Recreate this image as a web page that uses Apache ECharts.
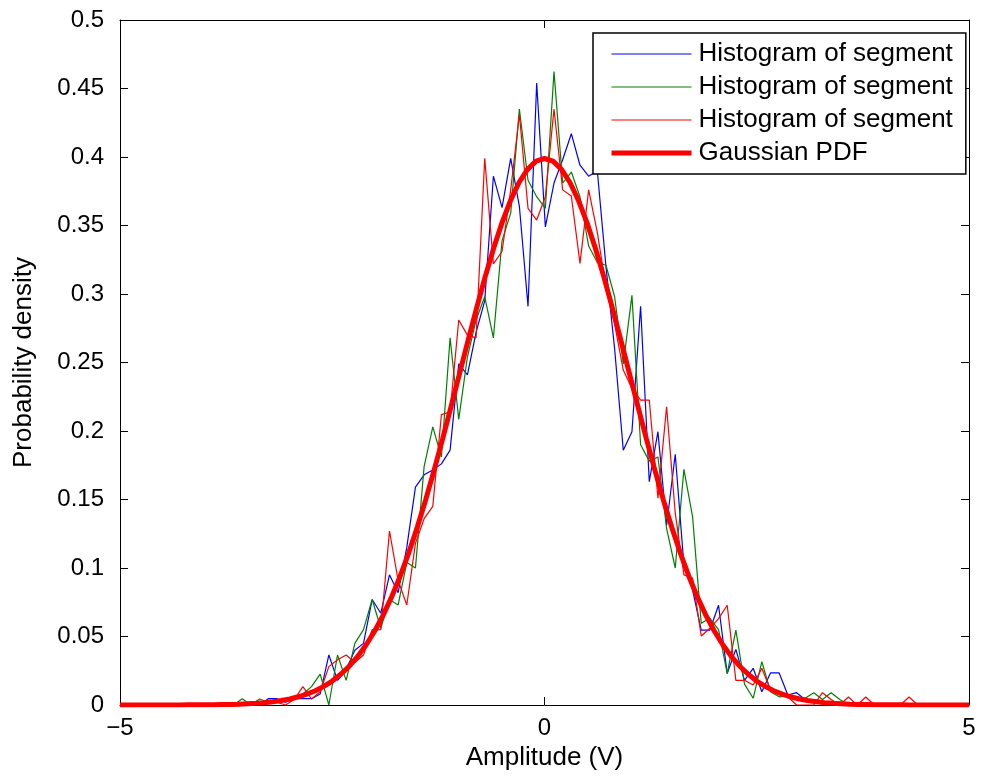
<!DOCTYPE html>
<html>
<head>
<meta charset="utf-8">
<script src="https://cdn.jsdelivr.net/npm/echarts@6/dist/echarts.min.js"></script>
<style>
html,body{margin:0;padding:0;background:#fff;}
#chart{width:987px;height:777px;}
</style>
</head>
<body>
<div id="chart"></div>
<script>
// Bin centres of the histograms (x, volts)
var histX = [-3.764,-3.662,-3.560,-3.458,-3.356,-3.254,-3.152,-3.050,-2.948,-2.846,
  -2.744,-2.642,-2.540,-2.438,-2.336,-2.234,-2.132,-2.030,-1.928,-1.826,
  -1.724,-1.622,-1.520,-1.418,-1.316,-1.214,-1.112,-1.010,-0.908,-0.806,
  -0.704,-0.602,-0.500,-0.398,-0.296,-0.194,-0.092,0.010,0.112,0.214,
  0.316,0.418,0.520,0.622,0.724,0.826,0.928,1.030,1.132,1.234,
  1.336,1.438,1.540,1.642,1.744,1.846,1.948,2.050,2.152,2.254,
  2.356,2.458,2.560,2.662,2.764,2.866,2.968,3.070,3.172,3.274,
  3.376,3.478,3.580,3.682,3.784,3.886,3.988,4.090,4.192,4.294,4.396];

var blueY = [0,0,0,0,0,0.0046,0.0046,0.002,0.0046,0.0046,
  0.0046,0.008,0.0365,0.018,0.026,0.040,0.045,0.077,0.067,0.095,
  0.082,0.115,0.159,0.168,0.1715,0.176,0.186,0.249,0.241,0.272,
  0.295,0.386,0.363,0.399,0.364,0.291,0.454,0.349,0.381,0.398,
  0.417,0.394,0.386,0.390,0.320,0.260,0.186,0.1995,0.291,0.163,
  0.1995,0.131,0.183,0.102,0.084,0.0547,0.0547,0.0728,0.023,0.0406,
  0.018,0.0268,0.0097,0.0234,0.0234,0.0073,0.009,0.004,0.004,0.003,
  0,0,0,0,0,0,0,0,0,0,0];

var greenY = [0,0,0.0046,0,0.0044,0.002,0.003,0.004,0.0046,0.008,
  0.0134,0.0226,0,0.0365,0.018,0.045,0.055,0.077,0.056,0.077,
  0.073,0.104,0.100,0.174,0.203,0.181,0.268,0.2085,0.254,0.281,
  0.298,0.268,0.339,0.359,0.435,0.383,0.371,0.3625,0.4623,0.381,
  0.389,0.371,0.335,0.323,0.321,0.298,0.249,0.299,0.190,0.178,
  0.181,0.129,0.100,0.172,0.1375,0.0596,0.0633,0.055,0.023,0.0547,
  0.0152,0.0049,0.0316,0.0097,0.006,0.0067,0.006,0.005,0.009,0.004,
  0.009,0.004,0,0,0,0,0,0,0,0,0];

var redY = [0,0,0,0.002,0,0.003,0.002,0,0.004,0.0134,
  0.0044,0.0097,0.028,0.033,0.0365,0.031,0.0365,0.055,0.055,0.127,
  0.091,0.073,0.118,0.136,0.145,0.212,0.214,0.281,0.270,0.268,
  0.399,0.322,0.331,0.376,0.431,0.3625,0.354,0.371,0.435,0.376,
  0.3715,0.3224,0.376,0.345,0.305,0.278,0.2445,0.231,0.2226,0.2226,
  0.151,0.2177,0.140,0.095,0.0927,0.0504,0.056,0.063,0.0728,0.018,
  0.018,0.0146,0.0268,0.011,0.009,0.006,0,0,0,0.009,
  0.004,0,0.0058,0,0.0058,0,0,0,0,0.0058,0];

// Gaussian PDF samples
var gaussX = [-5.0,-4.9,-4.8,-4.7,-4.6,-4.5,-4.4,-4.3,-4.2,-4.1,
  -4.0,-3.9,-3.8,-3.7,-3.6,-3.5,-3.4,-3.3,-3.2,-3.1,
  -3.0,-2.9,-2.8,-2.7,-2.6,-2.5,-2.4,-2.3,-2.2,-2.1,
  -2.0,-1.9,-1.8,-1.7,-1.6,-1.5,-1.4,-1.3,-1.2,-1.1,
  -1.0,-0.9,-0.8,-0.7,-0.6,-0.5,-0.4,-0.3,-0.2,-0.1,
  0.0,0.1,0.2,0.3,0.4,0.5,0.6,0.7,0.8,0.9,
  1.0,1.1,1.2,1.3,1.4,1.5,1.6,1.7,1.8,1.9,
  2.0,2.1,2.2,2.3,2.4,2.5,2.6,2.7,2.8,2.9,
  3.0,3.1,3.2,3.3,3.4,3.5,3.6,3.7,3.8,3.9,
  4.0,4.1,4.2,4.3,4.4,4.5,4.6,4.7,4.8,4.9,5.0];
var gaussY = [0,0,0,0,0,0,0,0,0.0001,0.0001,
  0.0001,0.0002,0.0003,0.0004,0.0006,0.0009,0.0012,0.0017,0.0024,0.0033,
  0.0044,0.0060,0.0079,0.0104,0.0136,0.0175,0.0224,0.0283,0.0355,0.0440,
  0.0540,0.0656,0.0790,0.0940,0.1109,0.1295,0.1497,0.1714,0.1942,0.2179,
  0.2420,0.2661,0.2897,0.3123,0.3332,0.3521,0.3683,0.3814,0.3910,0.3970,
  0.3989,0.3970,0.3910,0.3814,0.3683,0.3521,0.3332,0.3123,0.2897,0.2661,
  0.2420,0.2179,0.1942,0.1714,0.1497,0.1295,0.1109,0.0940,0.0790,0.0656,
  0.0540,0.0440,0.0355,0.0283,0.0224,0.0175,0.0136,0.0104,0.0079,0.0060,
  0.0044,0.0033,0.0024,0.0017,0.0012,0.0009,0.0006,0.0004,0.0003,0.0002,
  0.0001,0.0001,0.0001,0,0,0,0,0,0,0,0];

var xTicks = {min: -5, max: 5, interval: 5};
var yTicks = {min: 0, max: 0.5, interval: 0.05};
var seriesNames = ['Histogram of segment', 'Histogram of segment\u200b', 'Histogram of segment\u200b\u200b', 'Gaussian PDF'];
var seriesColors = ['#0000ff', '#008000', '#ff0000', '#ff0000'];
var seriesWidths = [1.2, 1.2, 1.2, 5];

function pairs(xs, ys) { return xs.map(function (x, i) { return [x, ys[i]]; }); }

var FONT = '"Liberation Sans", Arial, Helvetica, sans-serif';
var chart = echarts.init(document.getElementById('chart'), null, {renderer: 'canvas'});

function xAx(pos, show) {
  return {
    type: 'value', position: pos, min: xTicks.min, max: xTicks.max, interval: xTicks.interval,
    axisLine: {show: true, onZero: false, lineStyle: {color: '#000', width: 1}},
    axisTick: {show: true, inside: true, length: 8, lineStyle: {color: '#000', width: 1}},
    axisLabel: {show: show, color: '#000', fontSize: 24, fontFamily: FONT, margin: 11,
      formatter: function (v) { return String(v).replace('-', '\u2212'); }},
    splitLine: {show: false},
    name: show ? 'Amplitude (V)' : '', nameLocation: 'middle', nameGap: 39,
    nameTextStyle: {color: '#000', fontSize: 26, fontFamily: FONT}
  };
}
function yAx(pos, show) {
  return {
    type: 'value', position: pos, min: yTicks.min, max: yTicks.max, interval: yTicks.interval,
    axisLine: {show: true, onZero: false, lineStyle: {color: '#000', width: 1}},
    axisTick: {show: true, inside: true, length: 8, lineStyle: {color: '#000', width: 1}},
    axisLabel: {show: show, color: '#000', fontSize: 24, fontFamily: FONT, margin: 16,
      formatter: function (v) { return String(parseFloat(v.toFixed(2))); }},
    splitLine: {show: false},
    name: show ? 'Probability density' : '', nameLocation: 'middle', nameGap: 83, nameRotate: 90,
    nameTextStyle: {color: '#000', fontSize: 26, fontFamily: FONT}
  };
}

chart.setOption({
  animation: false,
  backgroundColor: '#fff',
  grid: {left: 120, right: 18, top: 20, bottom: 72, containLabel: false},
  xAxis: [xAx('bottom', true), xAx('top', false)],
  yAxis: [yAx('left', true), yAx('right', false)],
  legend: {
    orient: 'vertical', left: 593, top: 33,
    padding: [8, 13, 8, 16],
    backgroundColor: '#fff', borderColor: '#000', borderWidth: 1.5, borderRadius: 0,
    itemWidth: 80, itemHeight: 14, itemGap: 7,
    itemStyle: {opacity: 0},
    textStyle: {color: '#000', fontSize: 26, fontFamily: FONT, lineHeight: 26, padding: [0, 0, 0, 2]},
    data: seriesNames.map(function (n, i) {
      return {name: n, lineStyle: {width: seriesWidths[i], color: seriesColors[i], opacity: 1}};
    }),
    selectedMode: false
  },
  series: seriesNames.map(function (n, i) {
    var ys = [blueY, greenY, redY, gaussY][i];
    var xs = i < 3 ? histX : gaussX;
    return {name: n, type: 'line', data: pairs(xs, ys), symbol: 'none',
      lineStyle: {color: seriesColors[i], width: seriesWidths[i]},
      itemStyle: {color: seriesColors[i]}, z: 2 + i};
  })
});
</script>
</body>
</html>
